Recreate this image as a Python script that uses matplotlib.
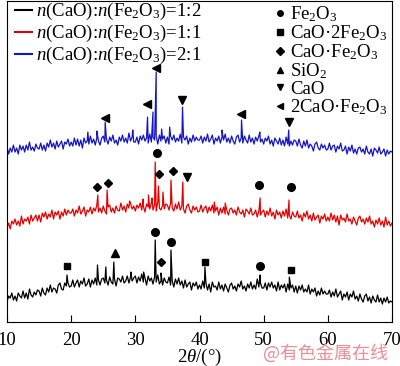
import numpy as np
import matplotlib.pyplot as plt
from matplotlib.lines import Line2D

plt.rcParams['font.family'] = ['Liberation Serif', 'DejaVu Serif']
plt.rcParams['mathtext.fontset'] = 'custom'
plt.rcParams['mathtext.rm'] = 'Liberation Serif'
plt.rcParams['mathtext.it'] = 'Liberation Serif:italic'
plt.rcParams['font.size'] = 13

# 2theta grid, 10..70 deg, step 0.25
two_theta = np.linspace(10, 70, 241)

# intensities (arbitrary units), one row = 5 deg
blue_vals = [
    175, 168, 174, 170, 177, 170, 174, 168, 177, 172, 176, 170, 177, 172, 180, 172, 175, 171, 178, 174,
    173, 179, 172, 177, 171, 179, 175, 182, 175, 179, 173, 181, 175, 178, 181, 173, 180, 178, 183, 176,
    180, 176, 184, 177, 183, 176, 182, 174, 184, 179, 181, 178, 186, 179, 183, 177, 184, 181, 177, 184,
    186, 180, 183, 178, 185, 181, 187, 179, 182, 177, 185, 181, 187, 180, 184, 179, 189, 181, 185, 180,
    180, 185, 178, 186, 182, 187, 181, 184, 179, 188, 180, 185, 182, 186, 178, 187, 181, 183, 186, 179,
    185, 178, 186, 182, 187, 180, 184, 181, 188, 179, 185, 182, 186, 178, 184, 180, 187, 181, 185, 182,
    182, 186, 179, 185, 181, 188, 180, 183, 187, 178, 184, 181, 186, 179, 185, 182, 188, 180, 184, 179,
    186, 181, 178, 185, 187, 180, 184, 179, 186, 182, 179, 187, 180, 184, 178, 185, 181, 186, 180, 183,
    178, 184, 181, 186, 178, 182, 176, 184, 181, 178, 184, 177, 182, 176, 185, 178, 176, 181, 177, 182,
    181, 176, 183, 177, 174, 181, 176, 182, 174, 178, 176, 171, 178, 180, 174, 172, 178, 174, 177, 172,
    173, 179, 172, 176, 177, 170, 176, 173, 179, 171, 172, 176, 168, 175, 171, 177, 169, 173, 168, 174,
    175, 170, 173, 168, 176, 170, 168, 173, 166, 174, 172, 169, 175, 168, 170, 173, 166, 172, 168, 171,
    170,
]
red_vals = [
    94, 99, 93, 101, 98, 103, 97, 101, 96, 106, 98, 103, 101, 105, 98, 107, 101, 104, 107, 101,
    107, 100, 109, 105, 110, 103, 108, 105, 112, 103, 110, 107, 111, 103, 110, 106, 113, 107, 112, 109,
    109, 113, 106, 112, 109, 116, 108, 111, 115, 106, 112, 110, 115, 108, 114, 111, 117, 110, 114, 109,
    116, 111, 108, 115, 117, 110, 114, 109, 116, 112, 111, 119, 112, 116, 110, 118, 114, 119, 113, 116,
    111, 117, 114, 119, 112, 116, 110, 118, 115, 113, 119, 112, 117, 111, 120, 114, 112, 117, 113, 118,
    117, 112, 119, 114, 111, 118, 113, 120, 112, 116, 113, 109, 116, 118, 112, 109, 116, 112, 115, 110,
    111, 117, 110, 114, 116, 109, 115, 111, 117, 109, 111, 115, 107, 114, 109, 115, 108, 112, 107, 113,
    114, 109, 112, 107, 115, 110, 108, 112, 105, 113, 111, 108, 114, 107, 108, 112, 105, 111, 107, 110,
    112, 105, 111, 107, 114, 106, 110, 103, 112, 107, 110, 104, 111, 106, 113, 104, 107, 103, 110, 106,
    105, 111, 104, 107, 101, 109, 105, 111, 103, 107, 101, 109, 102, 105, 107, 99, 106, 103, 108, 101,
    105, 101, 109, 102, 107, 100, 106, 97, 107, 102, 104, 100, 108, 101, 103, 98, 105, 101, 97, 104,
    106, 100, 103, 98, 104, 100, 106, 98, 101, 95, 102, 98, 104, 97, 101, 95, 105, 97, 101, 96,
    99,
]
black_vals = [
    20, 26, 24, 29, 22, 26, 21, 29, 26, 24, 31, 24, 29, 23, 33, 27, 25, 30, 27, 32,
    31, 26, 34, 29, 27, 34, 30, 37, 30, 34, 33, 29, 37, 39, 33, 32, 39, 36, 39, 35,
    36, 42, 35, 39, 42, 35, 41, 38, 44, 36, 38, 43, 35, 42, 38, 44, 37, 42, 37, 43,
    44, 39, 42, 37, 45, 40, 38, 43, 36, 44, 43, 40, 46, 39, 41, 46, 39, 45, 41, 44,
    46, 39, 45, 41, 48, 40, 44, 37, 46, 41, 44, 38, 45, 40, 47, 38, 41, 37, 44, 40,
    39, 45, 37, 41, 35, 43, 38, 44, 37, 41, 34, 42, 35, 38, 40, 32, 39, 36, 40, 33,
    37, 33, 41, 34, 39, 32, 38, 30, 40, 35, 36, 32, 40, 33, 37, 31, 38, 34, 30, 37,
    39, 33, 36, 31, 38, 35, 41, 33, 36, 31, 38, 34, 40, 33, 37, 33, 43, 35, 39, 34,
    34, 39, 32, 39, 35, 40, 34, 37, 31, 40, 32, 37, 34, 38, 30, 38, 32, 34, 37, 30,
    36, 29, 36, 32, 37, 30, 33, 30, 37, 28, 33, 30, 34, 26, 31, 27, 34, 28, 31, 28,
    28, 32, 25, 30, 26, 33, 25, 28, 31, 22, 28, 25, 30, 22, 28, 25, 31, 23, 26, 21,
    28, 23, 20, 26, 28, 21, 25, 19, 26, 22, 20, 27, 20, 24, 18, 24, 20, 25, 19, 21,
    20,
]

# diffraction peaks (2theta, top intensity)
blue_peak_x = [22.6, 24.0, 25.3, 29.6, 31.9, 32.75, 33.25, 34.1, 35.35, 37.35, 43.5, 46.55, 49.4, 53.9]
blue_peak_y = [190, 191, 200, 192, 205, 210, 250, 193, 195, 215, 192, 202, 190, 192]
red_peak_x = [24.15, 25.6, 29.1, 31.2, 32.05, 32.6, 33.1, 33.6, 34.3, 35.55, 37.4, 42.3, 44.0, 49.45, 53.95]
red_peak_y = [127, 132, 121, 123, 127, 124, 160, 136, 130, 142, 140, 120, 119, 124, 122]
black_peak_x = [19.35, 24.1, 25.4, 26.65, 29.3, 31.3, 33.1, 34.0, 35.55, 40.85, 49.45, 54.0]
black_peak_y = [47, 57, 55, 60, 50, 50, 82, 49, 72, 55, 47, 45]

# phase markers (2theta, height)
phases = ['Fe$_2$O$_3$', 'CaO·2Fe$_2$O$_3$', 'CaO·Fe$_2$O$_3$', 'SiO$_2$', 'CaO', '2CaO·Fe$_2$O$_3$']
phase_markers = ['o', 's', 'D', '^', 'v', '<']
phase_x = [
    [33.4, 49.25, 54.2, 33.05, 35.55, 49.5],
    [19.3, 40.85, 54.2],
    [24.0, 25.7, 33.7, 35.8, 34.0],
    [26.8],
    [37.35, 53.95, 38.1],
    [25.2, 31.75, 33.15, 46.4],
]
phase_y = [
    [169, 137, 135, 90, 80, 56],
    [56, 60, 52],
    [135, 139, 148, 151, 60],
    [69],
    [222, 200, 145],
    [204, 218, 254, 208],
]

series_labels = [r'$n$(CaO):$n$(Fe$_2$O$_3$)=1:2',
                 r'$n$(CaO):$n$(Fe$_2$O$_3$)=1:1',
                 r'$n$(CaO):$n$(Fe$_2$O$_3$)=2:1']
series_colors = ['black', '#e60000', '#1414c8']

fig = plt.figure(figsize=(4.0, 3.66), dpi=100)
ax = fig.add_axes([0.0175, 0.1202, 0.9625, 0.8768])

data = [(black_vals, black_peak_x, black_peak_y),
        (red_vals, red_peak_x, red_peak_y),
        (blue_vals, blue_peak_x, blue_peak_y)]
for (vals, px, py), c in zip(data, series_colors):
    xx = np.concatenate([two_theta, px])
    yy = np.concatenate([vals, py])
    order = np.argsort(xx)
    ax.plot(xx[order], yy[order], color=c, lw=0.9)

sizes = [5.5, 5, 4.5, 5.5, 5.5, 5.5]
for xs, ys, m, s in zip(phase_x, phase_y, phase_markers, sizes):
    ax.plot(xs, ys, ls='none', marker=m, color='black', ms=s)

ax.set_xlim(10, 70)
ax.set_ylim(0, 321)
ax.set_yticks([])
ax.set_xticks([10, 20, 30, 40, 50, 60, 70])
ax.tick_params(axis='x', direction='in', length=5, pad=7, labelsize=13.5)
ax.set_xlabel(r'2$\theta$/(°)', fontsize=13.5)
ax.xaxis.set_label_coords(0.5, -0.078)

line_handles = [Line2D([], [], color=c, lw=1.5) for c in series_colors]
leg1 = ax.legend(line_handles, series_labels, loc='upper left', bbox_to_anchor=(0.021, 1.0),
                 frameon=False, borderpad=0, borderaxespad=0, handlelength=0.9,
                 handletextpad=0.2, labelspacing=0.05, fontsize=13.5)
ax.add_artist(leg1)

mark_handles = [Line2D([], [], ls='none', marker=m, color='black', ms=4) for m in phase_markers]
ax.legend(mark_handles, phases, loc='upper left', bbox_to_anchor=(0.697, 0.99),
          frameon=False, borderpad=0, borderaxespad=0, handlelength=0.5,
          handletextpad=0.3, labelspacing=-0.03, fontsize=13.5)

fig.text(0.815, 1 - 353 / 366, '@有色金属在线', color='#f08c96', fontsize=13,
         ha='center', va='center', family=['Noto Sans CJK SC', 'DejaVu Sans'])

fig.savefig('out.png', dpi=100)
